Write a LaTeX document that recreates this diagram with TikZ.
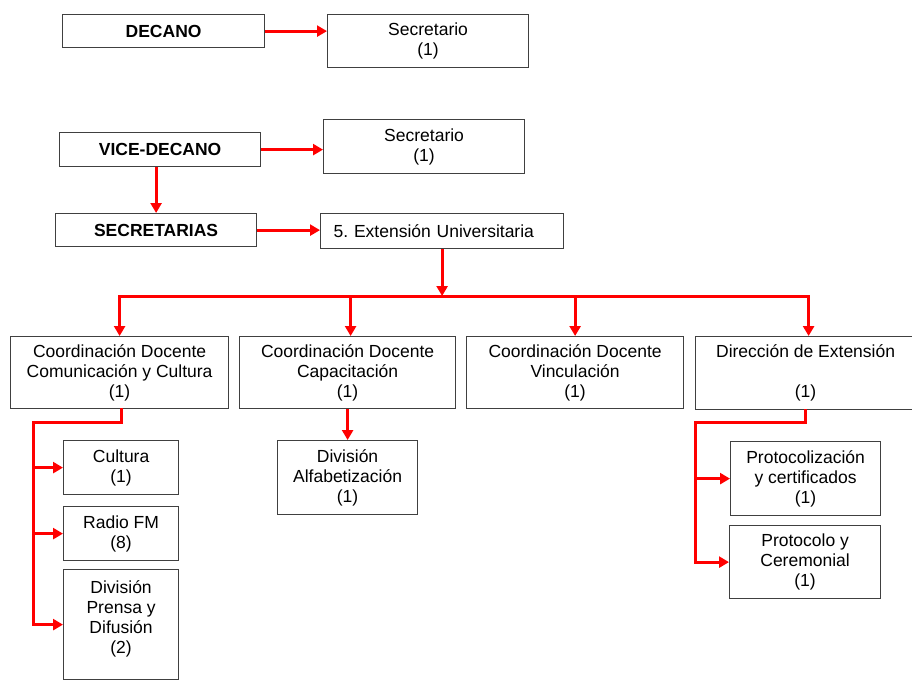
\documentclass[tikz,border=0pt]{standalone}
\usepackage{fontspec}
\setmainfont{Liberation Sans}
\usetikzlibrary{arrows.meta}
\definecolor{boxline}{HTML}{404040}
\definecolor{linkred}{HTML}{FF0000}
\frenchspacing
\begin{document}
\begin{tikzpicture}[x=1pt,y=-1pt,
  box/.style={draw=boxline, line width=1.2pt, fill=white, inner sep=0pt,
    align=center, font=\fontsize{17.5}{20}\selectfont, anchor=north west},
  link/.style={draw=linkred, line width=3pt, line cap=rect},
  arr/.style={draw=linkred, line width=3pt, -{Triangle[length=10pt,width=11pt]}}]
\useasboundingbox (0,0) rectangle (912,686);

\node[box,minimum width=202pt,minimum height=33pt] (decano) at (62,14) {\textbf{DECANO}};
\node[box,minimum width=201pt,minimum height=53pt] (sec1) at (327,14) {Secretario\\(1)};
\node[box,minimum width=201pt,minimum height=34pt] (vice) at (59,132) {\textbf{VICE-DECANO}};
\node[box,minimum width=201pt,minimum height=54pt] (sec2) at (323,119) {Secretario\\(1)};
\node[box,minimum width=201pt,minimum height=33pt] (secr) at (55,213) {\textbf{SECRETARIAS}};
\node[box,minimum height=35pt,text width=217pt,inner xsep=13pt,align=left] (ext) at (320,213) {5. Extensión Universitaria};

\coordinate (bus) at (ext.south |- 0,296);

\node[box,minimum width=218pt,minimum height=72pt] (cd1) at (10,336) {Coordinación Docente\\Comunicación y Cultura\\(1)};
\node[box,minimum width=216pt,minimum height=72pt] (cd2) at (239,336) {Coordinación Docente\\Capacitación\\(1)};
\node[box,minimum width=217pt,minimum height=72pt] (cd3) at (466,336) {Coordinación Docente\\Vinculación\\(1)};
\node[box,minimum width=220pt,minimum height=73pt] (cd4) at (695,336) {Dirección de Extensión\\\mbox{}\\(1)};

\node[box,minimum width=115pt,minimum height=54pt] (cultura) at (63,440) {Cultura\\(1)};
\node[box,minimum width=115pt,minimum height=54pt] (radio) at (63,506) {Radio FM\\(8)};
\node[box,minimum width=115pt,minimum height=110pt,
  label={[font=\fontsize{17.5}{20}\selectfont,align=center,anchor=north,yshift=-8pt]north:División\\Prensa y\\Difusión\\(2)}] (prensa) at (63,569) {};
\node[box,minimum width=140pt,minimum height=74pt] (alfa) at (277,440) {División\\Alfabetización\\(1)};
\node[box,minimum width=150pt,minimum height=74pt] (proto1) at (730,441) {Protocolización\\y certificados\\(1)};
\node[box,minimum width=151pt,minimum height=73pt] (proto2) at (729,525) {Protocolo y\\Ceremonial\\(1)};

\draw[arr] (decano.east) -- (decano.east -| sec1.west);
\draw[arr] (vice.east) -- (vice.east -| sec2.west);
\draw[arr] (secr.north |- vice.south) -- (secr.north);
\draw[arr] (secr.east) -- (secr.east -| ext.west);
\draw[arr] (ext.south) -- (bus);

\draw[arr] (bus) -| (cd1.north);
\draw[arr] (bus) -| ([xshift=3pt]cd2.north);
\draw[arr] (bus) -| (cd3.north);
\draw[arr] (bus) -| ([xshift=3pt]cd4.north);

\coordinate (k1) at (33,422);
\draw[link] ([xshift=2pt]cd1.south) |- (k1);
\draw[arr] (k1) |- (cultura.west);
\draw[arr] (k1) |- (radio.west);
\draw[arr] (k1) |- (prensa.west);

\draw[arr] (cd2.south) -- (cd2.south |- alfa.north);

\coordinate (k4) at (695,422);
\draw[link] (cd4.south) |- (k4);
\draw[arr] (k4) |- (proto1.west);
\draw[arr] (k4) |- (proto2.west);
\end{tikzpicture}
\end{document}
